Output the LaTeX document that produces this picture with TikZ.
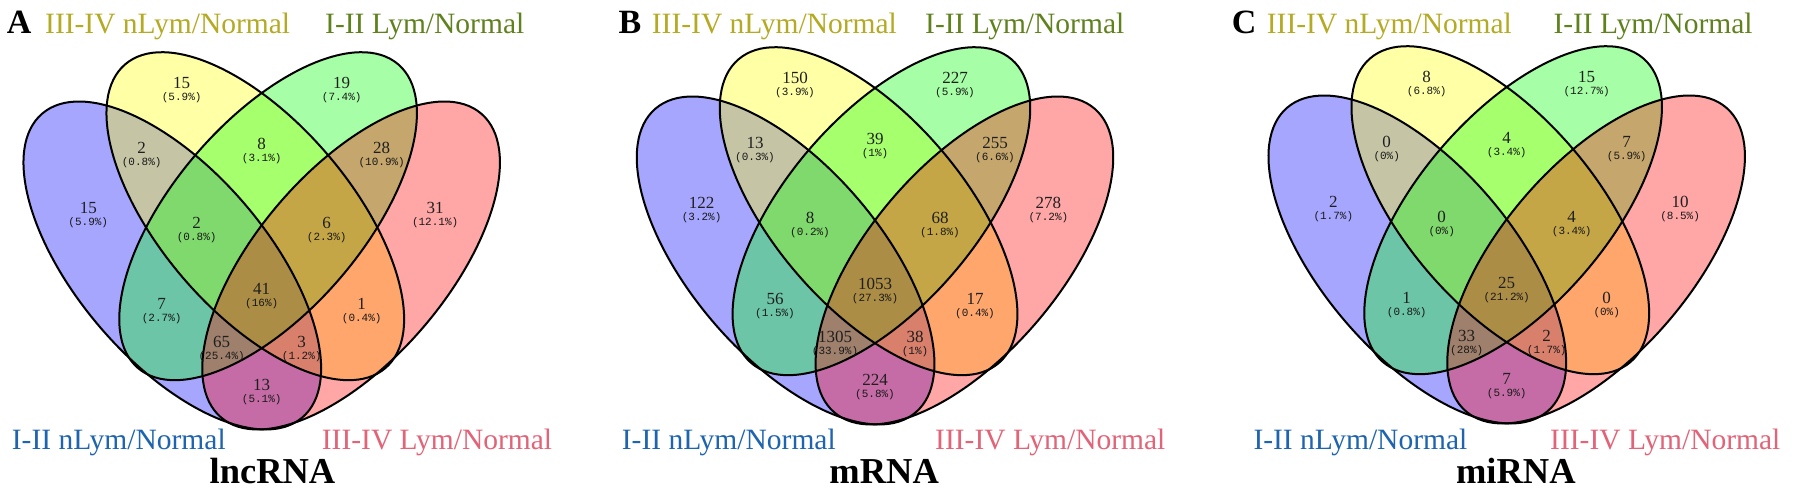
\documentclass[tikz,border=0pt]{standalone}
\usepackage{fontspec}
\setmainfont{Liberation Serif}
\newfontfamily\pctfont{Liberation Mono}
\definecolor{fB}{RGB}{0,0,255}
\definecolor{fY}{RGB}{255,255,0}
\definecolor{fG}{RGB}{0,255,0}
\definecolor{fP}{RGB}{255,0,0}
\definecolor{labY}{RGB}{180,170,35}
\definecolor{labG}{RGB}{95,130,30}
\definecolor{labB}{RGB}{30,100,175}
\definecolor{labP}{RGB}{225,100,120}
\tikzset{
  cnt/.style={inner sep=0pt, font=\fontsize{17}{17}\selectfont, text=black!88},
  pctx/.style={inner sep=0pt, font=\pctfont\fontsize{11}{11}\selectfont, text=black!90},
  setlab/.style={inner sep=0pt, anchor=base west, font=\fontsize{29.5}{30}\selectfont},
  ttl/.style={inner sep=0pt, anchor=base, font=\bfseries\fontsize{36.5}{37}\selectfont},
  plet/.style={inner sep=0pt, anchor=base west, font=\bfseries\fontsize{34}{34}\selectfont},
  vfill/.style={fill opacity=0.35},
  vline/.style={draw=black, line width=2pt},
}
\newcommand\vennbase[3]{%
  \begin{scope}[shift={(#2,#3)}]
    \fill[vfill, fill=fB, shift={(-89.4,231.5)}, rotate=-49.4] (0,0) ellipse [x radius=200, y radius=95];
    \fill[vfill, fill=fY, shift={(-6.4,280.8)}, rotate=-49.4] (0,0) ellipse [x radius=200, y radius=95];
    \fill[vfill, fill=fG, shift={(6.4,280.8)}, rotate=49.4] (0,0) ellipse [x radius=200, y radius=95];
    \fill[vfill, fill=fP, shift={(89.4,231.5)}, rotate=49.4] (0,0) ellipse [x radius=200, y radius=95];
    \draw[vline, shift={(-89.4,231.5)}, rotate=-49.4] (0,0) ellipse [x radius=200, y radius=95];
    \draw[vline, shift={(-6.4,280.8)}, rotate=-49.4] (0,0) ellipse [x radius=200, y radius=95];
    \draw[vline, shift={(6.4,280.8)}, rotate=49.4] (0,0) ellipse [x radius=200, y radius=95];
    \draw[vline, shift={(89.4,231.5)}, rotate=49.4] (0,0) ellipse [x radius=200, y radius=95];
    \coordinate (#1-yo) at (-80,414.3);
    \coordinate (#1-go) at (80,414.3);
    \coordinate (#1-by) at (-120,348.7);
    \coordinate (#1-yg) at (0,353);
    \coordinate (#1-gp) at (120,348.7);
    \coordinate (#1-bo) at (-173.4,289.3);
    \coordinate (#1-po) at (173.4,289.3);
    \coordinate (#1-byg) at (-65,274.3);
    \coordinate (#1-ygp) at (65,274.3);
    \coordinate (#1-all) at (0,207.7);
    \coordinate (#1-bg) at (-100,193);
    \coordinate (#1-yp) at (100,193);
    \coordinate (#1-bgp) at (-40,155.3);
    \coordinate (#1-byp) at (40,155.3);
    \coordinate (#1-bp) at (0,112);
  \end{scope}}
\newcommand\rg[3]{%
  \node[cnt] (#1-n) at (#1) {#2};
  \node[pctx] (#1-p) at ([yshift=-14.7pt]#1) {#3};}
\begin{document}
\begin{tikzpicture}[x=1pt,y=1pt]
\useasboundingbox (0,0) rectangle (1795,497);
\fill[white] (0,0) rectangle (1795,497);

% ---------- Panel A ----------
\vennbase{A}{261.7}{0}
\rg{A-yo}{15}{(5.9\%)}
\rg{A-go}{19}{(7.4\%)}
\rg{A-bo}{15}{(5.9\%)}
\rg{A-po}{31}{(12.1\%)}
\rg{A-by}{2}{(0.8\%)}
\rg{A-yg}{8}{(3.1\%)}
\rg{A-gp}{28}{(10.9\%)}
\rg{A-byg}{2}{(0.8\%)}
\rg{A-ygp}{6}{(2.3\%)}
\rg{A-all}{41}{(16\%)}
\rg{A-bg}{7}{(2.7\%)}
\rg{A-yp}{1}{(0.4\%)}
\rg{A-bgp}{65}{(25.4\%)}
\rg{A-byp}{3}{(1.2\%)}
\rg{A-bp}{13}{(5.1\%)}
\node[plet] (A-let) at (6.7,463) {A};
\node[setlab, text=labY] (A-l1) at (45,463) {III-IV nLym/Normal};
\node[setlab, text=labG] (A-l2) at (325,463) {I-II Lym/Normal};
\node[setlab, text=labB] (A-l3) at (11.7,47) {I-II nLym/Normal};
\node[setlab, text=labP] (A-l4) at (321.7,47) {III-IV Lym/Normal};
\node[ttl] (A-t) at (272.5,13) {lncRNA};

% ---------- Panel B ----------
\vennbase{B}{875}{5}
\rg{B-yo}{150}{(3.9\%)}
\rg{B-go}{227}{(5.9\%)}
\rg{B-bo}{122}{(3.2\%)}
\rg{B-po}{278}{(7.2\%)}
\rg{B-by}{13}{(0.3\%)}
\rg{B-yg}{39}{(1\%)}
\rg{B-gp}{255}{(6.6\%)}
\rg{B-byg}{8}{(0.2\%)}
\rg{B-ygp}{68}{(1.8\%)}
\rg{B-all}{1053}{(27.3\%)}
\rg{B-bg}{56}{(1.5\%)}
\rg{B-yp}{17}{(0.4\%)}
\rg{B-bgp}{1305}{(33.9\%)}
\rg{B-byp}{38}{(1\%)}
\rg{B-bp}{224}{(5.8\%)}
\node[plet] (B-let) at (618.3,463) {B};
\node[setlab, text=labY] (B-l1) at (651.7,463) {III-IV nLym/Normal};
\node[setlab, text=labG] (B-l2) at (925,463) {I-II Lym/Normal};
\node[setlab, text=labB] (B-l3) at (621.7,47) {I-II nLym/Normal};
\node[setlab, text=labP] (B-l4) at (935,47) {III-IV Lym/Normal};
\node[ttl] (B-t) at (884.2,13) {mRNA};

% ---------- Panel C ----------
\vennbase{C}{1506.7}{6}
\rg{C-yo}{8}{(6.8\%)}
\rg{C-go}{15}{(12.7\%)}
\rg{C-bo}{2}{(1.7\%)}
\rg{C-po}{10}{(8.5\%)}
\rg{C-by}{0}{(0\%)}
\rg{C-yg}{4}{(3.4\%)}
\rg{C-gp}{7}{(5.9\%)}
\rg{C-byg}{0}{(0\%)}
\rg{C-ygp}{4}{(3.4\%)}
\rg{C-all}{25}{(21.2\%)}
\rg{C-bg}{1}{(0.8\%)}
\rg{C-yp}{0}{(0\%)}
\rg{C-bgp}{33}{(28\%)}
\rg{C-byp}{2}{(1.7\%)}
\rg{C-bp}{7}{(5.9\%)}
\node[plet] (C-let) at (1231.7,463) {C};
\node[setlab, text=labY] (C-l1) at (1266.7,463) {III-IV nLym/Normal};
\node[setlab, text=labG] (C-l2) at (1553.3,463) {I-II Lym/Normal};
\node[setlab, text=labB] (C-l3) at (1253.3,47) {I-II nLym/Normal};
\node[setlab, text=labP] (C-l4) at (1550,47) {III-IV Lym/Normal};
\node[ttl] (C-t) at (1515.8,13) {miRNA};
\end{tikzpicture}
\end{document}
